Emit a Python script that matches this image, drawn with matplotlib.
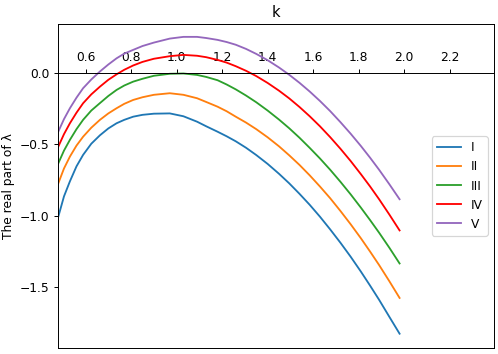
import numpy as np
import matplotlib
matplotlib.use("Agg")
import matplotlib.pyplot as plt


k = [0.48, 0.505, 0.531, 0.56, 0.589, 0.625, 0.663, 0.70, 0.736, 0.77, 0.809, 0.85,
     0.90, 0.97, 1.03, 1.09, 1.13, 1.18, 1.22, 1.26, 1.305, 1.35, 1.40, 1.45,
     1.495, 1.54, 1.585, 1.63, 1.675, 1.72, 1.765, 1.81, 1.85, 1.89, 1.935, 1.98]

re_I = [-1.007, -0.865, -0.76, -0.655, -0.575, -0.497, -0.438, -0.39, -0.354, -0.33,
        -0.308, -0.295, -0.287, -0.285, -0.305, -0.343, -0.375, -0.413, -0.445, -0.48,
        -0.525, -0.576, -0.638, -0.707, -0.774, -0.847, -0.924, -1.007, -1.096, -1.189,
        -1.287, -1.391, -1.488, -1.588, -1.707, -1.825]
re_II = [-0.774, -0.67, -0.587, -0.51, -0.448, -0.385, -0.33, -0.285, -0.249, -0.218,
         -0.191, -0.172, -0.155, -0.144, -0.155, -0.179, -0.205, -0.238, -0.27, -0.308,
         -0.349, -0.395, -0.452, -0.515, -0.578, -0.645, -0.718, -0.796, -0.878, -0.967,
         -1.06, -1.158, -1.25, -1.345, -1.458, -1.575]
re_III = [-0.634, -0.545, -0.47, -0.395, -0.33, -0.265, -0.213, -0.163, -0.121, -0.09,
          -0.063, -0.043, -0.022, -0.008, -0.006, -0.016, -0.03, -0.053, -0.083, -0.117,
          -0.16, -0.207, -0.265, -0.328, -0.389, -0.455, -0.526, -0.60, -0.679, -0.763,
          -0.851, -0.944, -1.03, -1.119, -1.224, -1.334]
re_IV = [-0.517, -0.43, -0.354, -0.28, -0.214, -0.152, -0.098, -0.05, -0.012, 0.02,
         0.05, 0.075, 0.097, 0.115, 0.124, 0.118, 0.108, 0.089, 0.07, 0.045,
         0.013, -0.024, -0.072, -0.126, -0.18, -0.24, -0.305, -0.375, -0.451, -0.532,
         -0.618, -0.71, -0.795, -0.885, -0.992, -1.103]
re_V = [-0.412, -0.325, -0.249, -0.175, -0.109, -0.048, 0.008, 0.057, 0.10, 0.133,
        0.159, 0.186, 0.21, 0.238, 0.25, 0.25, 0.242, 0.229, 0.214, 0.195,
        0.166, 0.131, 0.087, 0.036, -0.015, -0.071, -0.132, -0.198, -0.269, -0.346,
        -0.427, -0.513, -0.594, -0.679, -0.78, -0.885]

labels = ["I", "II", "III", "IV", "V"]
colors = ["C0", "C1", "C2", "red", "C4"]

dpi = 88
fig = plt.figure(figsize=(498 / dpi, 354 / dpi), dpi=dpi)
ax = fig.add_axes([58 / 498, 6 / 354, 436 / 498, 324 / 354])

for y, lab, c in zip([re_I, re_II, re_III, re_IV, re_V], labels, colors):
    ax.plot(k, y, color=c, linewidth=1.5, label=lab)

ax.set_xlim(0.4787, 2.395)
ax.set_ylim(-1.925, 0.34)

# x axis sits on y = 0, ticks and labels above it
ax.spines["top"].set_position(("data", 0))
ax.xaxis.set_ticks_position("top")
ax.xaxis.set_label_position("top")
ax.set_xticks([0.6, 0.8, 1.0, 1.2, 1.4, 1.6, 1.8, 2.0, 2.2])
ax.set_yticks([0.0, -0.5, -1.0, -1.5])

# keep the outer frame closed at the top
ax.plot([0, 1], [1, 1], transform=ax.transAxes, color="black",
        linewidth=0.8, clip_on=False)

ax.set_xlabel("k", fontsize=12)
ax.xaxis.set_label_coords(0.5, 1.022)
ax.set_ylabel("The real part of λ")

ax.legend(loc="center right")

fig.savefig("out.png", dpi=dpi)
